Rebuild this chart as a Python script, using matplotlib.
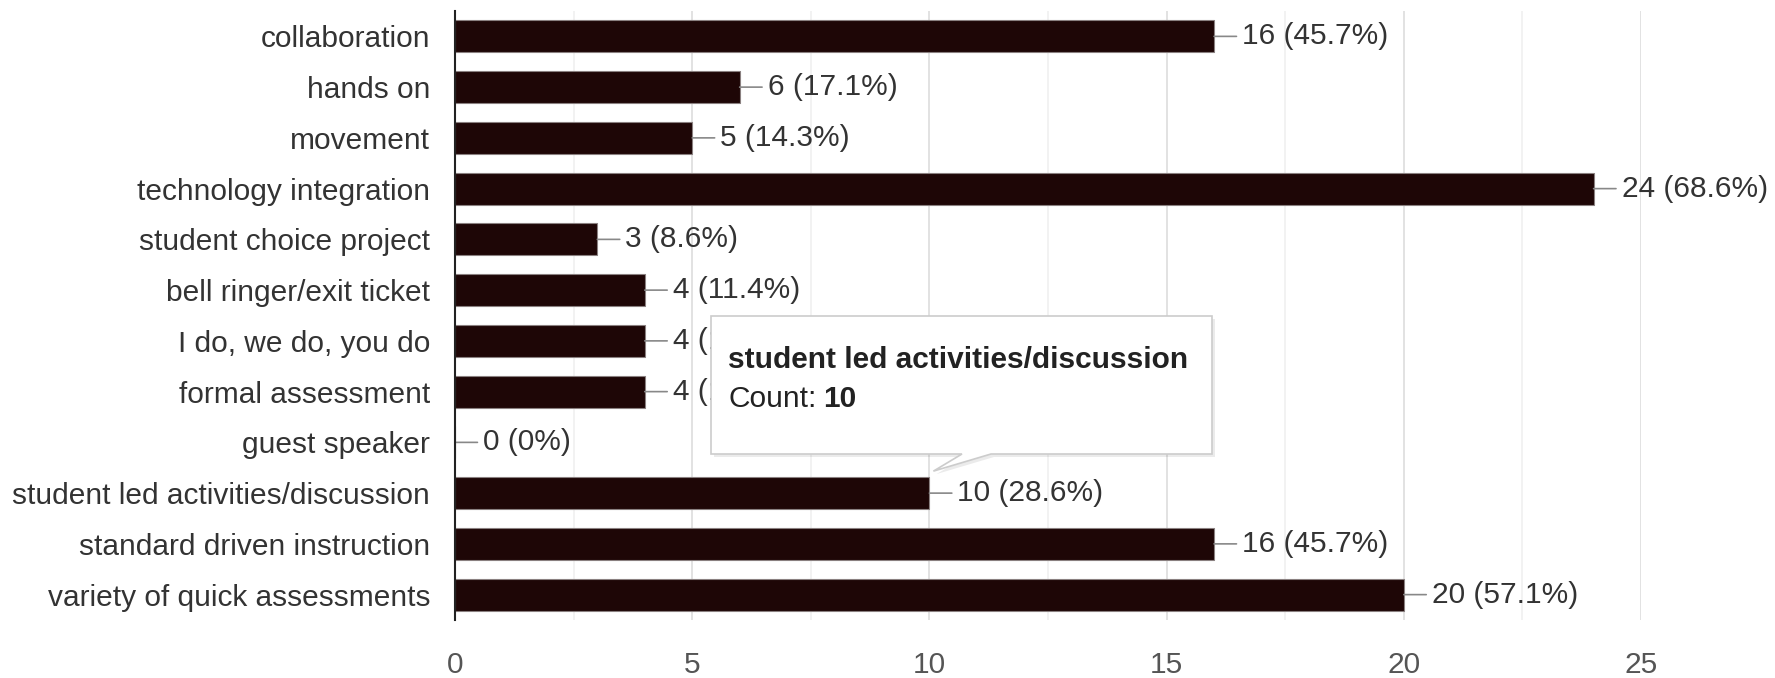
import matplotlib
matplotlib.use("Agg")
import matplotlib.pyplot as plt
from matplotlib.patches import Polygon
from matplotlib.text import Annotation

# data
categories = ["collaboration", "hands on", "movement", "technology integration",
              "student choice project", "bell ringer/exit ticket", "I do, we do, you do",
              "formal assessment", "guest speaker", "student led activities/discussion",
              "standard driven instruction", "variety of quick assessments"]
counts = [16, 6, 5, 24, 3, 4, 4, 4, 0, 10, 16, 20]
percents = ["45.7%", "17.1%", "14.3%", "68.6%", "8.6%", "11.4%", "11.4%", "11.4%",
            "0%", "28.6%", "45.7%", "57.1%"]
x_ticks = [0, 5, 10, 15, 20, 25]
tooltip_idx = 9

plt.rcParams['font.family'] = ['Liberation Sans', 'DejaVu Sans']
FS = 21.5

W, H = 1775, 678
fig = plt.figure(figsize=(W / 100, H / 100), dpi=100)
ax = fig.add_axes([455 / W, 1 - 620 / H, (1641 - 455) / W, (620 - 11) / H])

ypos = list(range(len(categories)))
ax.barh(ypos, counts, height=0.63, color="#1e0606", edgecolor="#8a8080", linewidth=0.8, zorder=3)

for i, (c, p) in enumerate(zip(counts, percents)):
    ax.annotate(f"{c} ({p})", xy=(c, i), xytext=(28, 0), textcoords="offset pixels",
                ha="left", va="center", fontsize=FS, color="#333333", annotation_clip=False,
                arrowprops=dict(arrowstyle="-", color="#888888", lw=1.2, shrinkA=2, shrinkB=0))

ax.set_xlim(0, 25)
ax.set_ylim(11.5, -0.5)
ax.set_yticks(ypos)
ax.set_yticklabels(categories, fontsize=FS, color="#333333")
ax.set_xticks(x_ticks)
ax.set_xticks([2.5, 7.5, 12.5, 17.5, 22.5], minor=True)
ax.tick_params(axis="x", which="both", length=0, labelsize=FS, labelcolor="#555555", pad=22)
ax.tick_params(axis="y", length=0, pad=18)
ax.grid(axis="x", which="major", color="#dddddd", lw=1.2, zorder=0)
ax.grid(axis="x", which="minor", color="#f0f0f0", lw=1.2, zorder=0)
for s in ["top", "right", "bottom"]:
    ax.spines[s].set_visible(False)
ax.spines["left"].set_color("#222222")
ax.spines["left"].set_linewidth(1.5)
ax.spines["left"].set_zorder(4)

# tooltip box in figure pixels, tail pointing at the hovered bar
tip = ax.transData.transform((counts[tooltip_idx], tooltip_idx - 0.315))
tx, ty = tip[0], tip[1] + 6
left, right, top, bottom = 711, 1212, H - 316, H - 454
pts = [(left, top), (right, top), (right, bottom), (991, bottom), (tx + 4, ty),
       (962, bottom), (left, bottom)]
shadow = Polygon([(x + 3, y - 3) for x, y in pts], closed=True, transform=None,
                 facecolor="#000000", alpha=0.08, edgecolor="none", zorder=9)
box = Polygon(pts, closed=True, transform=None, facecolor="white",
              edgecolor="#cccccc", lw=1.2, zorder=10)
fig.patches.extend([shadow, box])
fig.text(728 / W, 1 - 368 / H, categories[tooltip_idx], fontsize=FS, fontweight="bold",
         color="#222222", va="baseline", zorder=11)
lbl = fig.text(728 / W, 1 - 407 / H, "Count:", fontsize=FS, color="#222222",
               va="baseline", zorder=11)
fig.add_artist(Annotation(str(counts[tooltip_idx]), xy=(1, 0), xycoords=lbl,
                          xytext=(7, 0), textcoords="offset pixels", va="bottom",
                          fontsize=FS, fontweight="bold", color="#222222", zorder=11))

fig.savefig("out.png", dpi=100)
